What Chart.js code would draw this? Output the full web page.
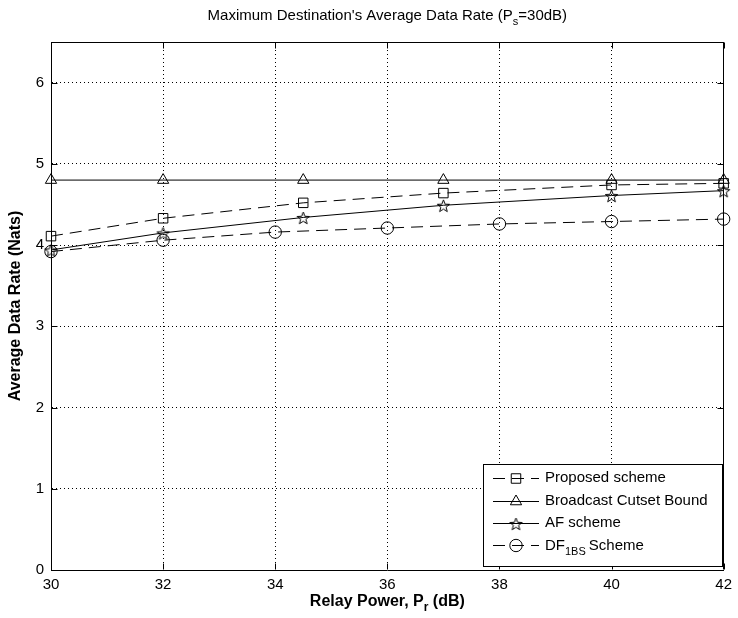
<!DOCTYPE html>
<html>
<head>
<meta charset="utf-8">
<script src="https://cdn.jsdelivr.net/npm/chart.js@4.4.0/dist/chart.umd.min.js"></script>
<style>
  html, body { margin: 0; padding: 0; background: #fff; }
</style>
</head>
<body>
<canvas id="rateChart" width="738" height="618"></canvas>
<script>
// relay power (dB) where markers sit
const relayPower = [30, 32, 34.5, 37, 40, 42];
const relayPowerDF = [30, 32, 34, 36, 38, 40, 42];

// average data rate (nats)
const proposedRate = [4.11, 4.33, 4.52, 4.64, 4.74, 4.76];
const cutsetRate = [4.80, 4.80, 4.80, 4.80, 4.80, 4.80];
const afRate = [3.94, 4.15, 4.34, 4.49, 4.61, 4.67];
const df1bsRate = [3.92, 4.06, 4.16, 4.21, 4.26, 4.29, 4.32];

const xTicks = [30, 32, 34, 36, 38, 40, 42];
const yTicks = [0, 1, 2, 3, 4, 5, 6];

const seriesNames = ['Proposed scheme', 'Broadcast Cutset Bound', 'AF scheme', 'DF'];

const FONT = "'Liberation Sans', Arial, Helvetica, sans-serif";
const DASH = [12, 7];

function toPoints(xs, ys) {
    return xs.map((x, i) => ({ x: x, y: ys[i] }))
}

// open five-pointed star like matlab's 'p' marker
function makeStar(r) {
    const c = document.createElement('canvas')
    const s = Math.ceil(r * 2 + 4)
    c.width = s
    c.height = s
    const g = c.getContext('2d')
    g.strokeStyle = '#000'
    g.lineWidth = 1
    g.beginPath()
    for (let i = 0; i < 10; i++) {
        const a = -Math.PI / 2 + i * Math.PI / 5
        const rr = i % 2 === 0 ? r : r * 0.42
        const px = s / 2 + rr * Math.cos(a)
        const py = s / 2 + 1 + rr * Math.sin(a)
        if (i === 0) g.moveTo(px, py)
        else g.lineTo(px, py)
    }
    g.closePath()
    g.stroke()
    return c
}
const starImg = makeStar(6.5)

const markers = [
    { style: 'rect', radius: 6.7, dash: DASH },
    { style: 'triangle', radius: 6.5, dash: [] },
    { style: starImg, radius: 6, dash: [] },
    { style: 'circle', radius: 6.2, dash: DASH }
]

function lineDataset(label, xs, ys, m) {
    return {
        label: label,
        data: toPoints(xs, ys),
        borderColor: '#000',
        borderWidth: 1,
        borderDash: m.dash,
        pointStyle: m.style,
        pointRadius: m.radius,
        pointBorderColor: '#000',
        pointBackgroundColor: 'rgba(0,0,0,0)',
        pointBorderWidth: 1,
        tension: 0,
        clip: false
    }
}

// text with optional subscript pieces: [[text, isSub], ...]
function drawParts(ctx, parts, cx, baseY, font, subFont) {
    let total = 0
    parts.forEach(p => {
        ctx.font = p[1] ? subFont : font
        total += ctx.measureText(p[0]).width
    })
    let x = cx - total / 2
    ctx.textAlign = 'left'
    ctx.textBaseline = 'alphabetic'
    parts.forEach(p => {
        ctx.font = p[1] ? subFont : font
        ctx.fillText(p[0], x, baseY + (p[1] ? 5 : 0))
        x += ctx.measureText(p[0]).width
    })
    return x
}

const framePlugin = {
    id: 'frame',
    afterDatasetsDraw(chart) {
        const { ctx, chartArea: a, scales } = chart
        const L = Math.round(a.left) + 0.5, R = Math.round(a.right) - 0.5
        const T = Math.round(a.top) + 0.5, B = Math.round(a.bottom) - 0.5
        ctx.save()
        ctx.strokeStyle = '#000'
        ctx.lineWidth = 1
        ctx.setLineDash([])
        ctx.beginPath()
        ctx.moveTo(L, T); ctx.lineTo(R, T); ctx.lineTo(R, B)
        xTicks.forEach(v => {
            const px = Math.round(scales.x.getPixelForValue(v)) + 0.5
            ctx.moveTo(px, B); ctx.lineTo(px, B - 6)
            ctx.moveTo(px, T); ctx.lineTo(px, T + 6)
        })
        yTicks.forEach(v => {
            const py = Math.round(scales.y.getPixelForValue(v)) + 0.5
            ctx.moveTo(L, py); ctx.lineTo(L + 6, py)
            ctx.moveTo(R, py); ctx.lineTo(R - 6, py)
        })
        ctx.stroke()
        ctx.restore()
    }
}

const textPlugin = {
    id: 'texts',
    afterDraw(chart) {
        const { ctx, chartArea: a } = chart
        const cx = (a.left + a.right) / 2
        ctx.save()
        ctx.fillStyle = '#000'
        // title
        drawParts(ctx, [["Maximum Destination's Average Data Rate (P", false], ['s', true], ['=30dB)', false]],
            cx, 20, '15px ' + FONT, '11px ' + FONT)
        // x title
        drawParts(ctx, [['Relay Power, P', false], ['r', true], [' (dB)', false]],
            cx, 606, 'bold 16px ' + FONT, 'bold 12px ' + FONT)
        // y title
        ctx.translate(20, (a.top + a.bottom) / 2)
        ctx.rotate(-Math.PI / 2)
        drawParts(ctx, [['Average Data Rate (Nats)', false]], 0, 0, 'bold 16px ' + FONT, 'bold 12px ' + FONT)
        ctx.restore()

        // legend box
        const lx = 483, ly = 464, lw = 239, lh = 102
        ctx.save()
        ctx.fillStyle = '#fff'
        ctx.fillRect(lx, ly, lw, lh)
        ctx.strokeStyle = '#000'
        ctx.lineWidth = 1
        ctx.strokeRect(lx + 0.5, ly + 0.5, lw, lh)
        const rows = [478, 501, 523, 545]
        rows.forEach((ry, i) => {
            const m = markers[i]
            const y = ry + 0.5
            ctx.setLineDash(m.dash)
            ctx.beginPath()
            ctx.moveTo(493, y)
            ctx.lineTo(539, y)
            ctx.stroke()
            ctx.setLineDash([])
            ctx.fillStyle = 'rgba(0,0,0,0)'
            Chart.helpers.drawPoint(ctx, { pointStyle: m.style, radius: m.radius, rotation: 0, borderWidth: 1 }, 516, y)
            ctx.fillStyle = '#000'
            ctx.font = '15px ' + FONT
            ctx.textBaseline = 'middle'
            ctx.textAlign = 'left'
            if (i === 3) {
                ctx.textBaseline = 'alphabetic'
                let x = 545
                ctx.fillText('DF', x, ry + 5)
                x += ctx.measureText('DF').width
                ctx.font = '11px ' + FONT
                ctx.fillText('1BS', x, ry + 10)
                x += ctx.measureText('1BS').width + 3
                ctx.font = '15px ' + FONT
                ctx.fillText('Scheme', x, ry + 5)
            } else {
                ctx.fillText(seriesNames[i], 545, ry)
            }
        })
        ctx.restore()
    }
}

const context = document.getElementById('rateChart')
const data = {
    datasets: [
        lineDataset(seriesNames[0], relayPower, proposedRate, markers[0]),
        lineDataset(seriesNames[1], relayPower, cutsetRate, markers[1]),
        lineDataset(seriesNames[2], relayPower, afRate, markers[2]),
        lineDataset(seriesNames[3], relayPowerDF, df1bsRate, markers[3])
    ]
};
const config = {
    type: 'line',
    data: data,
    options: {
        responsive: false,
        devicePixelRatio: 1,
        animation: false,
        events: [],
        layout: { padding: { top: 42, right: 7, left: 0, bottom: 0 } },
        plugins: {
            legend: { display: false },
            title: { display: false },
            tooltip: { enabled: false }
        },
        scales: {
            x: {
                type: 'linear',
                min: 30,
                max: 42,
                afterBuildTicks: scale => { scale.ticks = xTicks.map(v => ({ value: v })) },
                afterFit: scale => { scale.height = 48 },
                grid: { color: '#000', lineWidth: 1, drawTicks: false },
                border: { display: true, color: '#000', width: 1, dash: [1, 3] },
                ticks: { color: '#000', padding: 6, maxRotation: 0, font: { family: FONT, size: 15 } }
            },
            y: {
                type: 'linear',
                min: 0,
                max: 6.5,
                afterBuildTicks: scale => { scale.ticks = yTicks.map(v => ({ value: v })) },
                afterFit: scale => { scale.width = 51 },
                grid: { color: '#000', lineWidth: 1, drawTicks: false },
                border: { display: true, color: '#000', width: 1, dash: [1, 3] },
                ticks: { color: '#000', padding: 7, font: { family: FONT, size: 15 } }
            }
        }
    },
    plugins: [framePlugin, textPlugin]
};
new Chart(context, config);
</script>
</body>
</html>
